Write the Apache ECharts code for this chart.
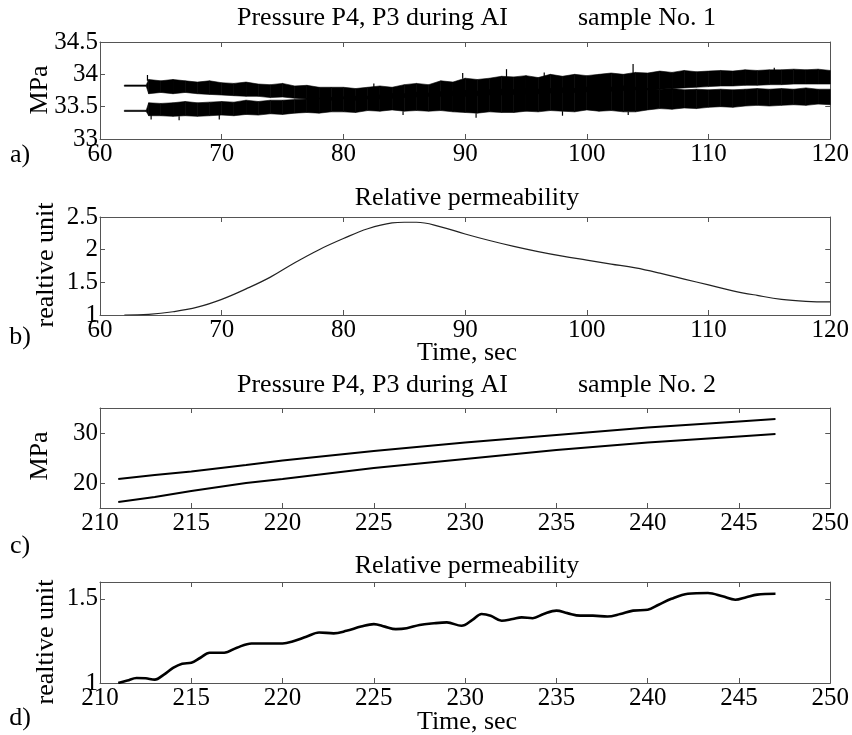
<!DOCTYPE html>
<html>
<head>
<meta charset="utf-8">
<script src="https://cdn.jsdelivr.net/npm/echarts@6/dist/echarts.min.js"></script>
<style>
html, body { margin: 0; padding: 0; background: #fff; }
#chart { width: 852px; height: 735px; }
</style>
</head>
<body>
<div id="chart"></div>
<script>
// ---- sample No. 1: pressure bands (lower / upper envelope of the noisy traces), sec / MPa
const timeA = [62, 63.8, 64, 65, 66, 67, 68, 69, 70, 71, 72, 73, 74, 75, 76, 77, 78, 79, 80, 81, 82, 83, 84, 85, 86, 87, 88, 89, 90,
  91, 92, 93, 94, 95, 96, 97, 98, 99, 100, 101, 102, 103, 104, 105, 106, 107, 108, 109, 110, 111, 112, 113, 114, 115, 116, 117, 118, 119, 120];
const p4High = [33.835, 33.835, 33.92, 33.9, 33.92, 33.9, 33.88, 33.9, 33.87, 33.86, 33.88, 33.85, 33.84, 33.86, 33.82, 33.83, 33.8, 33.8, 33.8,
  33.78, 33.8, 33.82, 33.8, 33.84, 33.86, 33.84, 33.9, 33.88, 33.94, 33.92, 33.94, 33.97, 33.96, 33.98, 33.95, 34.0, 33.97, 34.0, 33.98,
  34.0, 34.02, 34.0, 34.03, 34.02, 34.05, 34.03, 34.06, 34.04, 34.05, 34.06, 34.05, 34.07, 34.06, 34.07, 34.07, 34.08, 34.07, 34.08, 34.06];
const p4Low = [33.815, 33.815, 33.7, 33.72, 33.7, 33.72, 33.7, 33.69, 33.68, 33.67, 33.66, 33.66, 33.64, 33.65, 33.63, 33.62, 33.62, 33.6, 33.62,
  33.6, 33.62, 33.62, 33.63, 33.64, 33.65, 33.66, 33.66, 33.67, 33.66, 33.67, 33.68, 33.68, 33.69, 33.7, 33.7, 33.71, 33.72, 33.72, 33.73,
  33.74, 33.74, 33.75, 33.76, 33.76, 33.77, 33.78, 33.79, 33.8, 33.81, 33.82, 33.82, 33.83, 33.83, 33.84, 33.84, 33.85, 33.85, 33.85, 33.85];
const p3High = [33.445, 33.445, 33.56, 33.55, 33.56, 33.58, 33.56, 33.57, 33.58, 33.57, 33.6, 33.58, 33.6, 33.6, 33.61, 33.62, 33.63, 33.64, 33.65,
  33.66, 33.66, 33.68, 33.7, 33.7, 33.72, 33.71, 33.73, 33.74, 33.75, 33.74, 33.76, 33.77, 33.76, 33.78, 33.77, 33.78, 33.79, 33.78, 33.8,
  33.79, 33.8, 33.82, 33.8, 33.78, 33.77, 33.78, 33.76, 33.77, 33.76, 33.77, 33.76, 33.77, 33.78, 33.77, 33.78, 33.77, 33.79, 33.77, 33.77];
const p3Low = [33.425, 33.425, 33.36, 33.36, 33.35, 33.36, 33.35, 33.36, 33.37, 33.36, 33.38, 33.37, 33.39, 33.38, 33.4, 33.41, 33.4, 33.42, 33.42,
  33.41, 33.44, 33.43, 33.45, 33.43, 33.44, 33.43, 33.44, 33.42, 33.41, 33.4, 33.42, 33.41, 33.41, 33.43, 33.42, 33.44, 33.43, 33.42, 33.45,
  33.43, 33.44, 33.42, 33.42, 33.45, 33.47, 33.46, 33.48, 33.47, 33.49, 33.5, 33.49, 33.51, 33.52, 33.51, 33.52, 33.53, 33.52, 33.54, 33.53];

// isolated noise spikes sticking out of the bands: time, band edge, spike tip
const spikeTime = [63.9, 82.5, 89.8, 93.4, 96.5, 103.8, 115.4, 64.2, 66.5, 69.8, 84.9, 90.9, 98, 103.4];
const spikeFrom = [33.9, 33.8, 33.93, 33.96, 33.96, 34.02, 34.06, 33.37, 33.35, 33.37, 33.43, 33.4, 33.43, 33.42];
const spikeTo = [33.99, 33.86, 34.02, 34.08, 34.03, 34.16, 34.1, 33.3, 33.29, 33.3, 33.37, 33.33, 33.36, 33.37];

// ---- sample No. 1: relative permeability
const timeB = [62, 64, 66, 68, 70, 72, 74, 76, 78, 80, 82, 84, 85, 86, 88, 90, 92, 94, 96, 98, 100, 102, 104, 106, 108, 110, 112, 114, 116, 118, 120];
const permB = [1.0, 1.01, 1.05, 1.12, 1.24, 1.4, 1.58, 1.8, 2.0, 2.17, 2.32, 2.41, 2.42, 2.42, 2.35, 2.24, 2.14, 2.05, 1.97, 1.9, 1.84, 1.78, 1.72,
  1.64, 1.55, 1.46, 1.37, 1.3, 1.24, 1.21, 1.2];

// ---- sample No. 2: pressures
const timeC = [211, 213, 215, 218, 220, 225, 230, 235, 240, 245, 247];
const p4C = [20.8, 21.6, 22.3, 23.6, 24.5, 26.4, 28.1, 29.6, 31.1, 32.3, 32.8];
const p3C = [16.2, 17.2, 18.4, 20.0, 20.8, 23.0, 24.8, 26.6, 28.1, 29.3, 29.8];

// ---- sample No. 2: relative permeability
const timeD = [211, 211.5, 212, 212.5, 213, 213.5, 214, 214.5, 215, 215.5, 216, 216.8, 217.5, 218.3, 219, 220, 220.5, 221.3, 222, 222.8,
  223.5, 224.3, 225, 225.6, 226.2, 226.8, 227.5, 228.3, 229, 229.8, 230.4, 230.9, 231.4, 232, 232.6, 233.1, 233.7, 234.3, 235, 235.6,
  236.3, 237, 237.8, 238.5, 239.2, 240, 240.6, 241.3, 242.2, 243.3, 244.1, 244.8, 245.4, 246, 247];
const permD = [1.0, 1.015, 1.03, 1.028, 1.02, 1.05, 1.09, 1.115, 1.12, 1.15, 1.18, 1.18, 1.21, 1.235, 1.235, 1.235, 1.245, 1.275, 1.3, 1.295,
  1.31, 1.335, 1.35, 1.335, 1.32, 1.325, 1.345, 1.355, 1.36, 1.34, 1.375, 1.41, 1.4, 1.37, 1.38, 1.39, 1.385, 1.41, 1.43, 1.415,
  1.4, 1.4, 1.395, 1.41, 1.43, 1.435, 1.465, 1.5, 1.53, 1.535, 1.515, 1.495, 1.51, 1.525, 1.53];

// tick values
const ticksYA = [33, 33.5, 34, 34.5];
const ticksYB = [1, 1.5, 2, 2.5];
const ticksYC = [20, 30];
const ticksYD = [1, 1.5];

const FONT = 'Liberation Serif, Times New Roman, serif';
const AXIS_COLOR = '#555';
const TICK_SIZE = 25;
const TEXT_SIZE = 26;

const pairs = (xs, ys) => xs.map((x, i) => [x, ys[i]]);

function xAxis(grid, min, max, interval, pos) {
  return {
    type: 'value', gridIndex: grid, min, max, interval, position: pos,
    axisLine: { show: true, onZero: false, lineStyle: { color: AXIS_COLOR, width: 1 } },
    axisTick: { show: true, inside: true, length: 5, lineStyle: { color: AXIS_COLOR } },
    axisLabel: { show: pos === 'bottom', color: '#000', fontFamily: FONT, fontSize: TICK_SIZE, margin: 3 },
    splitLine: { show: false }
  };
}
function yAxis(grid, min, max, ticks, pos) {
  return {
    type: 'value', gridIndex: grid, min, max, position: pos,
    axisLine: { show: true, onZero: false, lineStyle: { color: AXIS_COLOR, width: 1 } },
    axisTick: { show: true, inside: true, length: 5, customValues: ticks, lineStyle: { color: AXIS_COLOR } },
    axisLabel: { show: pos === 'left', customValues: ticks, color: '#000', fontFamily: FONT, fontSize: TICK_SIZE, margin: 2 },
    splitLine: { show: false }
  };
}

// filled band between a low and a high envelope, one quad per time step
function band(name, lows, highs) {
  return {
    type: 'custom', name, xAxisIndex: 0, yAxisIndex: 0, silent: true, z: 3,
    clip: true,
    encode: { x: 0, y: [1, 2] },
    data: timeA.map((t, i) => [t, lows[i], highs[i]]),
    renderItem(params, api) {
      const i = params.dataIndex;
      if (i >= timeA.length - 1) return null;
      const pts = [
        api.coord([timeA[i], highs[i]]),
        api.coord([timeA[i + 1], highs[i + 1]]),
        api.coord([timeA[i + 1], lows[i + 1]]),
        api.coord([timeA[i], lows[i]])
      ];
      return { type: 'polygon', shape: { points: pts }, style: { fill: '#000', stroke: '#000', lineWidth: 0.6 } };
    }
  };
}

const spikes = {
  type: 'custom', name: 'spikes', xAxisIndex: 0, yAxisIndex: 0, silent: true, z: 3, clip: true,
  encode: { x: 0, y: [1, 2] },
  data: spikeTime.map((t, i) => [t, spikeFrom[i], spikeTo[i]]),
  renderItem(params, api) {
    const a = api.coord([api.value(0), api.value(1)]);
    const b = api.coord([api.value(0), api.value(2)]);
    return { type: 'line', shape: { x1: a[0], y1: a[1], x2: b[0], y2: b[1] }, style: { stroke: '#000', lineWidth: 1.2 } };
  }
};

function text(str, x, y, align) {
  return {
    type: 'text', x, y,
    style: { text: str, font: TEXT_SIZE + 'px ' + FONT, fill: '#000', align: align || 'center', verticalAlign: 'middle' }
  };
}
function vtext(str, x, y) {
  return {
    type: 'text', x, y, rotation: Math.PI / 2,
    style: { text: str, font: TEXT_SIZE + 'px ' + FONT, fill: '#000', align: 'center', verticalAlign: 'middle' }
  };
}

const chart = echarts.init(document.getElementById('chart'), null, { renderer: 'canvas' });

chart.setOption({
  backgroundColor: '#fff',
  animation: false,
  grid: [
    { left: 100, right: 19, top: 42, height: 97 },
    { left: 100, right: 19, top: 217, height: 98 },
    { left: 100, right: 19, top: 408, height: 100 },
    { left: 100, right: 19, top: 582, height: 101 }
  ],
  xAxis: [
    xAxis(0, 60, 120, 10, 'bottom'), xAxis(0, 60, 120, 10, 'top'),
    xAxis(1, 60, 120, 10, 'bottom'), xAxis(1, 60, 120, 10, 'top'),
    xAxis(2, 210, 250, 5, 'bottom'), xAxis(2, 210, 250, 5, 'top'),
    xAxis(3, 210, 250, 5, 'bottom'), xAxis(3, 210, 250, 5, 'top')
  ],
  yAxis: [
    yAxis(0, 33, 34.5, ticksYA, 'left'), yAxis(0, 33, 34.5, ticksYA, 'right'),
    yAxis(1, 1, 2.5, ticksYB, 'left'), yAxis(1, 1, 2.5, ticksYB, 'right'),
    yAxis(2, 15, 35, ticksYC, 'left'), yAxis(2, 15, 35, ticksYC, 'right'),
    yAxis(3, 1, 1.6, ticksYD, 'left'), yAxis(3, 1, 1.6, ticksYD, 'right')
  ],
  series: [
    band('P4', p4Low, p4High),
    band('P3', p3Low, p3High),
    spikes,
    { type: 'line', name: 'perm1', xAxisIndex: 2, yAxisIndex: 2, symbol: 'none', smooth: 0.4,
      lineStyle: { color: '#222', width: 1.2 }, data: pairs(timeB, permB) },
    { type: 'line', name: 'P4-2', xAxisIndex: 4, yAxisIndex: 4, symbol: 'none',
      lineStyle: { color: '#000', width: 1.8 }, data: pairs(timeC, p4C) },
    { type: 'line', name: 'P3-2', xAxisIndex: 4, yAxisIndex: 4, symbol: 'none',
      lineStyle: { color: '#000', width: 1.8 }, data: pairs(timeC, p3C) },
    { type: 'line', name: 'perm2', xAxisIndex: 6, yAxisIndex: 6, symbol: 'none', smooth: 0.35,
      lineStyle: { color: '#000', width: 2.6 }, data: pairs(timeD, permD) }
  ],
  graphic: [
    text('Pressure P4, P3 during AI', 237, 18, 'left'),
    text('sample No. 1', 578, 18, 'left'),
    text('Relative permeability', 467, 198),
    text('Pressure P4, P3 during AI', 237, 385, 'left'),
    text('sample No. 2', 578, 385, 'left'),
    text('Relative permeability', 467, 566),
    text('Time, sec', 467, 353),
    text('Time, sec', 467, 722),
    text('a)', 20, 155), text('b)', 20, 337), text('c)', 20, 546), text('d)', 20, 718),
    vtext('MPa', 40, 90),
    vtext('realtive unit', 46, 265),
    vtext('MPa', 40, 456),
    vtext('realtive unit', 46, 642)
  ]
});
</script>
</body>
</html>
